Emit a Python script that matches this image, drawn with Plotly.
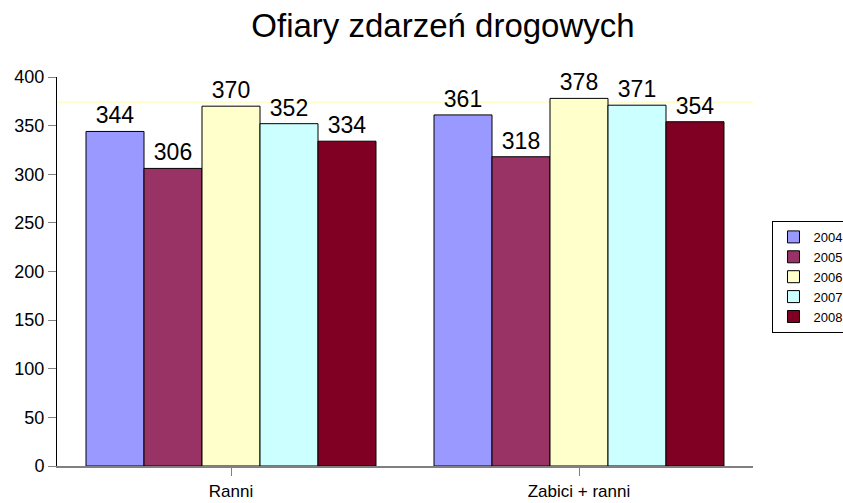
import plotly.graph_objects as go

categories = ["Ranni", "Zabici + ranni"]
years = ["2004", "2005", "2006", "2007", "2008"]
values = {
    "2004": [344, 361],
    "2005": [306, 318],
    "2006": [370, 378],
    "2007": [352, 371],
    "2008": [334, 354],
}
colors = ["#9999FF", "#993366", "#FFFFCC", "#CCFFFF", "#7F0023"]
ref_line_value = 374
y_ticks = [0, 50, 100, 150, 200, 250, 300, 350, 400]

FONT = "Liberation Sans, Arial"

fig = go.Figure()
for yr, col in zip(years, colors):
    fig.add_trace(go.Bar(
        name=yr, x=categories, y=values[yr],
        marker=dict(color=col, line=dict(color="#000000", width=1)),
        text=[str(v) for v in values[yr]], textposition="outside",
        textfont=dict(family=FONT, size=23, color="#000000"),
        cliponaxis=False,
    ))

fig.add_shape(type="line", xref="paper", x0=0, x1=1, yref="y",
              y0=ref_line_value, y1=ref_line_value,
              line=dict(color="#FFFFCC", width=2), layer="below")

fig.update_layout(
    width=843, height=503,
    margin=dict(l=57, r=90, t=77, b=37, autoexpand=False),
    paper_bgcolor="white", plot_bgcolor="white",
    barmode="group", bargap=0.1667, bargroupgap=0,
    font=dict(family=FONT, color="#000000"),
    title=dict(text="Ofiary zdarzeń drogowych", xref="container", x=0.5255,
               xanchor="center", yref="container", y=0.95, yanchor="middle",
               font=dict(size=33, family=FONT)),
    showlegend=True,
    legend=dict(x=1.028, y=0.486, xanchor="left", yanchor="middle",
                bordercolor="#000000", borderwidth=1, bgcolor="white",
                font=dict(size=13), itemwidth=30, tracegroupgap=0),
)
fig.update_yaxes(range=[0, 400], tickvals=y_ticks, showgrid=False,
                 showline=True, linecolor="#000000", linewidth=1,
                 ticks="outside", ticklen=8, tickcolor="#808080",
                 tickfont=dict(size=18), zeroline=False)
fig.update_xaxes(showline=True, linecolor="#808080", linewidth=2,
                 ticks="outside", ticklen=8, tickcolor="#808080",
                 tickfont=dict(size=17), ticklabelstandoff=1)
fig.write_html("out.html",
               config={"displayModeBar": False},
               post_script="document.body.style.margin='0';"
                           "document.body.style.overflow='hidden';")
